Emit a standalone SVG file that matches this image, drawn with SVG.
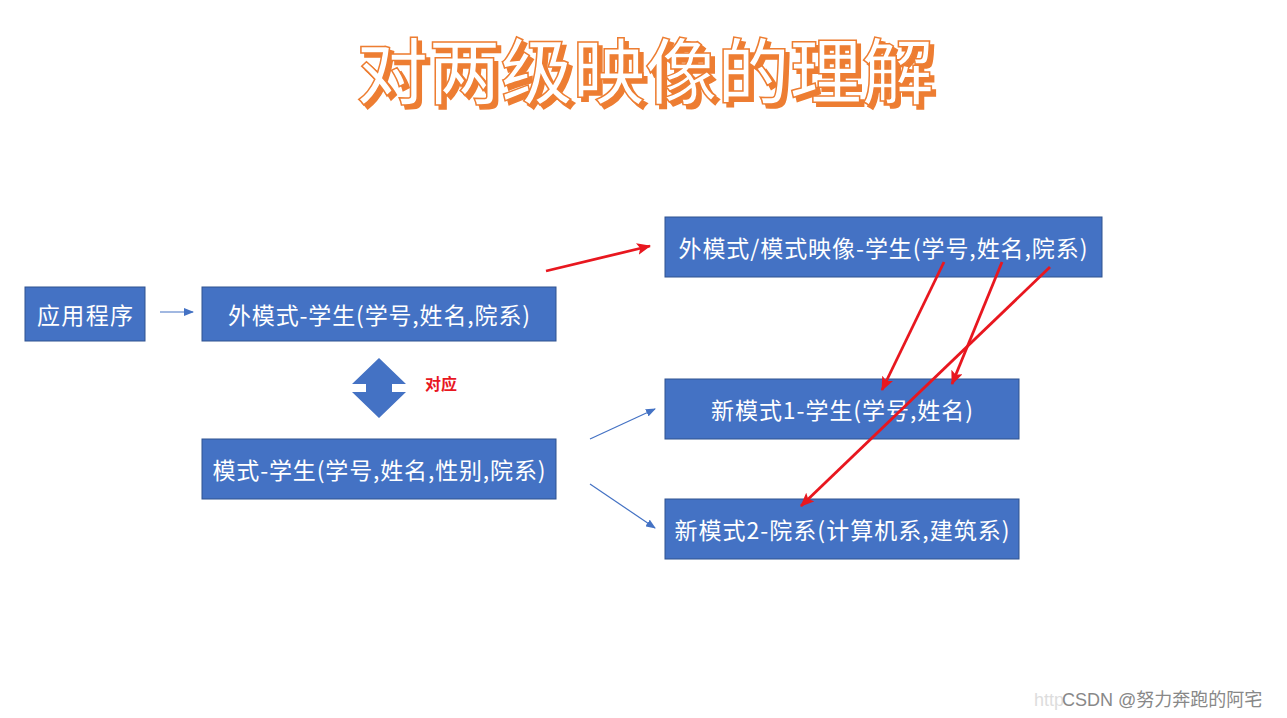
<svg xmlns="http://www.w3.org/2000/svg" width="1287" height="718" viewBox="0 0 1287 718">
<style>
.box{fill:#4472C4;stroke:#2F528F;stroke-width:1}
.lbl{fill:#fff;font-family:"Noto Sans CJK SC","Microsoft YaHei",sans-serif;font-size:23px;text-anchor:middle;dominant-baseline:central}
.blue{stroke:#4472C4;stroke-width:1.2;fill:none;marker-end:url(#ab)}
.red{stroke:#E8171F;stroke-width:2.8;fill:none;marker-end:url(#ar)}
.title{font-family:"Noto Sans CJK SC",sans-serif;font-size:72px;font-weight:500;text-anchor:middle}
</style>
<defs>
<marker id="ab" markerWidth="10" markerHeight="8" refX="9" refY="4" orient="auto" markerUnits="userSpaceOnUse"><path d="M0,0 L10,4 L0,8 Z" fill="#4472C4"/></marker>
<marker id="ar" markerWidth="14" markerHeight="12" refX="13" refY="6" orient="auto" markerUnits="userSpaceOnUse"><path d="M0,0 L14,6 L0,12 L3,6 Z" fill="#E8171F"/></marker>
<filter id="sh" x="-5%" y="-20%" width="110%" height="140%">
<feDropShadow dx="4" dy="4" stdDeviation="0" flood-color="#ED7D31"/>
</filter>
</defs>
<rect width="1287" height="718" fill="#fff"/>
<g id="title">
<text class="title" x="645" y="98" fill="#fff" stroke="#ED7D31" stroke-width="1.5" filter="url(#sh)" textLength="578" lengthAdjust="spacingAndGlyphs">对两级映像的理解</text>
</g>
<g id="app"><rect class="box" x="25" y="287" width="120" height="54"/><text class="lbl" x="85" y="314" textLength="96">应用程序</text></g>
<g id="ext"><rect class="box" x="202" y="287" width="354" height="54"/><text class="lbl" x="379" y="314" textLength="302">外模式-学生(学号,姓名,院系)</text></g>
<g id="schema"><rect class="box" x="202" y="439" width="354" height="60"/><text class="lbl" x="379" y="469" textLength="333">模式-学生(学号,姓名,性别,院系)</text></g>
<g id="map"><rect class="box" x="665" y="217" width="437" height="60"/><text class="lbl" x="883" y="247" textLength="409">外模式/模式映像-学生(学号,姓名,院系)</text></g>
<g id="new1"><rect class="box" x="665" y="379" width="354" height="60"/><text class="lbl" x="842" y="409" textLength="262">新模式1-学生(学号,姓名)</text></g>
<g id="new2"><rect class="box" x="665" y="499" width="354" height="60"/><text class="lbl" x="842" y="529" textLength="335">新模式2-院系(计算机系,建筑系)</text></g>
<g id="corr">
<polygon points="379,358 406,384 392,384 392,392 406,392 379,418 352,392 366,392 366,384 352,384" fill="#4472C4"/>
<text x="425" y="390" fill="#E8171F" font-family="'Noto Sans CJK SC',sans-serif" font-size="16" font-weight="bold">对应</text>
</g>
<g id="connectors">
<line class="blue" x1="160" y1="312" x2="193" y2="312"/>
<line class="blue" x1="590" y1="439" x2="655" y2="409"/>
<line class="blue" x1="590" y1="484" x2="655" y2="528"/>
<line class="red" x1="546" y1="271" x2="650" y2="246"/>
<line class="red" x1="944" y1="262" x2="882" y2="390"/>
<line class="red" x1="1002" y1="262" x2="952" y2="384"/>
<line class="red" x1="1050" y1="267" x2="801" y2="506"/>
</g>
<g id="watermark" font-family="'Liberation Sans','Noto Sans CJK SC',sans-serif" font-size="18">
<text x="1034" y="706" fill="#ddd">http</text>
<text x="1062" y="706" fill="#888">CSDN @努力奔跑的阿宅</text>
</g>
</svg>
